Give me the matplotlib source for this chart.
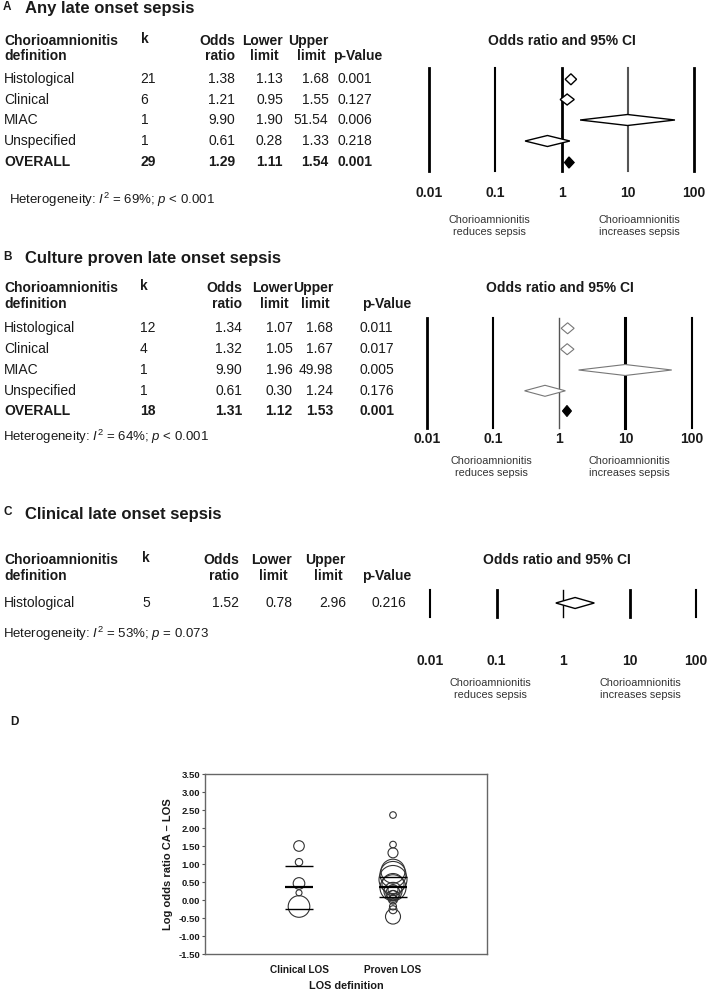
import numpy as np
import matplotlib
matplotlib.use('Agg')
import matplotlib.pyplot as plt

plt.rcParams['font.family'] = ['Liberation Sans', 'DejaVu Sans']
plt.rcParams['mathtext.fontset'] = 'custom'
plt.rcParams['mathtext.rm'] = 'Liberation Sans'
plt.rcParams['mathtext.it'] = 'Liberation Sans:italic'

# panel A: any late onset sepsis
defs_a = ['Histological', 'Clinical', 'MIAC', 'Unspecified', 'OVERALL']
k_a = [21, 6, 1, 1, 29]
or_a = [1.38, 1.21, 9.90, 0.61, 1.29]
lo_a = [1.13, 0.95, 1.90, 0.28, 1.11]
up_a = [1.68, 1.55, 51.54, 1.33, 1.54]
p_a = ['0.001', '0.127', '0.006', '0.218', '0.001']
het_a = (69, '< 0.001')

# panel B: culture proven late onset sepsis
defs_b = ['Histological', 'Clinical', 'MIAC', 'Unspecified', 'OVERALL']
k_b = [12, 4, 1, 1, 18]
or_b = [1.34, 1.32, 9.90, 0.61, 1.31]
lo_b = [1.07, 1.05, 1.96, 0.30, 1.12]
up_b = [1.68, 1.67, 49.98, 1.24, 1.53]
p_b = ['0.011', '0.017', '0.005', '0.176', '0.001']
het_b = (64, '< 0.001')

# panel C: clinical late onset sepsis
defs_c = ['Histological']
k_c = [5]
or_c = [1.52]
lo_c = [0.78]
up_c = [2.96]
p_c = ['0.216']
het_c = (53, '= 0.073')

or_ticks = [0.01, 0.1, 1, 10, 100]
or_tick_labels = ['0.01', '0.1', '1', '10', '100']

# panel D: log odds ratio per study
los_groups = ['Clinical LOS', 'Proven LOS']
clinical_logor = [1.50, 1.05, 0.46, 0.20, -0.18]
clinical_weight = [5.3, 3.7, 5.8, 3.0, 10.8]
clinical_lines = [0.94, 0.36, -0.25]
proven_logor = [2.36, 1.54, 1.31, 0.80, 0.71, 0.57, 0.43, 0.34, 0.29, 0.24,
                0.20, 0.15, 0.10, 0.06, 0.01, -0.18, -0.27, -0.46]
proven_weight = [3.3, 3.3, 5.0, 12.0, 13.0, 14.0, 11.0, 13.0, 5.0, 9.0,
                 7.0, 4.0, 6.0, 3.0, 4.5, 3.5, 4.0, 7.5]
proven_lines = [0.64, 0.36, 0.08]

W, H = 710, 991
TXT = '#1a1a1a'

fig = plt.figure(figsize=(W / 100, H / 100), dpi=100)
tx = fig.add_axes([0, 0, 1, 1])
tx.set_xlim(0, W)
tx.set_ylim(H, 0)
tx.axis('off')


def forest_ax(x001, x100):
    dec = (x100 - x001) / 4
    ax = fig.add_axes([0, 0, 1, 1])
    ax.patch.set_alpha(0)
    ax.set_xscale('log')
    ax.set_xlim(10 ** (-2 - x001 / dec), 10 ** (2 + (W - x100) / dec))
    ax.set_ylim(H, 0)
    ax.axis('off')
    return ax


def panel(letter, title, y_title, y_head, rows_y, defs, k, ors, los, ups, ps,
          cols, het, het_xy, fx, vline_y, vline_style, dcol, dlw, tick_y,
          title_x, side_y):
    kx, or_r, lo_r, up_r, p_x, ph_x = cols
    tx.text(3, y_title - 2, letter, fontsize=8.5, weight='bold', color=TXT,
            va='center')
    tx.text(25, y_title, title, fontsize=12, weight='bold', color=TXT,
            va='center')
    y1, y2 = y_head
    hd = dict(fontsize=10, weight='bold', color=TXT, va='center')
    tx.text(4, y1, 'Chorioamnionitis', **hd)
    tx.text(4, y2, 'definition', **hd)
    tx.text(kx, y1 - 2, 'k', **hd)
    tx.text(or_r, y1, 'Odds', ha='right', **hd)
    tx.text(or_r, y2, 'ratio', ha='right', **hd)
    tx.text(lo_r, y1, 'Lower', ha='right', **hd)
    tx.text(lo_r - 4, y2, 'limit', ha='right', **hd)
    tx.text(up_r, y1, 'Upper', ha='right', **hd)
    tx.text(up_r - 3, y2, 'limit', ha='right', **hd)
    tx.text(ph_x, y2, 'p-Value', **hd)
    for i, y in enumerate(rows_y):
        overall = defs[i] == 'OVERALL'
        st = dict(fontsize=10, color=TXT, va='center',
                  weight='bold' if overall else 'normal')
        tx.text(4, y, defs[i], **st)
        tx.text(kx, y, str(k[i]), **st)
        tx.text(or_r, y, '%.2f' % ors[i], ha='right', **st)
        tx.text(lo_r, y, '%.2f' % los[i], ha='right', **st)
        tx.text(up_r, y, '%.2f' % ups[i], ha='right', **st)
        tx.text(p_x, y, ps[i], **st)
        # diamond
        h = 5.5
        fc = 'black' if overall else 'white'
        ec = 'black' if overall else dcol
        fx.fill([los[i], ors[i], ups[i], ors[i]], [y, y - h, y, y + h],
                fc=fc, ec=ec, lw=dlw, zorder=3)
    tx.text(het_xy[0], het_xy[1],
            r'Heterogeneity: $\mathit{I}^2$ = %d%%; $\mathit{p}$ %s' % het,
            fontsize=9.5, color=TXT, va='center')
    for v, (c, lw) in zip(or_ticks, vline_style):
        fx.plot([v, v], vline_y, color=c, lw=lw, zorder=2)
    for v, lab in zip(or_ticks, or_tick_labels):
        fx.text(v, tick_y, lab, ha='center', va='center', fontsize=10,
                weight='bold', color=TXT)
    tx.text(title_x, y_head[0], 'Odds ratio and 95% CI', ha='center',
            va='center', fontsize=10, weight='bold', color=TXT)
    sd = dict(ha='center', va='center', fontsize=7.8, color='#333333',
              linespacing=1.25)
    tx.text(side_y[0], side_y[2], 'Chorioamnionitis\nreduces sepsis', **sd)
    tx.text(side_y[1], side_y[2], 'Chorioamnionitis\nincreases sepsis', **sd)


fa = forest_ax(429.3, 694)
panel('A', 'Any late onset sepsis', 9, (41, 56),
      [79.3, 99.5, 120, 141, 162.5], defs_a, k_a, or_a, lo_a, up_a, p_a,
      (140.5, 235, 283, 328.5, 337, 333), het_a, (9, 200), fa, (68, 171),
      [('black', 2), ('black', 1.5), ('black', 2), ('#555555', 1.5),
       ('black', 2)], 'black', 1.0, 193, 561.7, (489.5, 639.5, 226))

fb = forest_ax(426.7, 691.7)
panel('B', 'Culture proven late onset sepsis', 259, (288.3, 304),
      [328.3, 349.2, 370, 390.8, 411], defs_b, k_b, or_b, lo_b, up_b, p_b,
      (140, 242, 292.5, 333, 360, 362), het_b, (3, 437.3), fb, (318, 428),
      [('black', 2), ('black', 1.5), ('#555555', 1), ('black', 2.2),
       ('black', 1.5)], '#777777', 0.8, 439.3, 560, (491, 629.7, 466.5))

fc_ = forest_ax(430, 696)
panel('C', 'Clinical late onset sepsis', 514, (560, 576), [603],
      defs_c, k_c, or_c, lo_c, up_c, p_c,
      (142, 239, 292, 346, 371, 362), het_c, (3, 634), fc_, (590, 617),
      [('black', 1.5), ('black', 2), ('black', 1), ('black', 2),
       ('black', 1.5)], 'black', 1.0, 661, 557, (490, 640, 688.5))

# panel D
tx.text(10, 722, 'D', fontsize=8.5, weight='bold', color=TXT, va='center')
axd = fig.add_axes([205 / W, 1 - 954 / H, 282 / W, 180 / H])
pos = np.arange(1, len(los_groups) + 1)
for x, vals, wts, lines in [(pos[0], clinical_logor, clinical_weight, clinical_lines),
                            (pos[1], proven_logor, proven_weight, proven_lines)]:
    sizes = [(2 * r * 0.72) ** 2 for r in wts]
    axd.scatter([x] * len(vals), vals, s=sizes, facecolors='none',
                edgecolors='#333333', linewidths=0.8, zorder=3)
    for j, yv in enumerate(lines):
        axd.hlines(yv, x - 0.15, x + 0.15, color='black',
                   lw=1.6 if j == 1 else 1.0, zorder=4)
axd.set_xlim(0, 3)
axd.set_ylim(-1.5, 3.5)
yt = np.arange(-1.5, 3.51, 0.5)
axd.set_yticks(yt)
axd.set_yticklabels(['%.2f' % v for v in yt], fontsize=6.8, weight='bold',
                    color=TXT)
axd.set_xticks(pos)
axd.set_xticklabels(los_groups, fontsize=7.2, weight='bold', color=TXT)
axd.tick_params(axis='x', length=0, pad=8)
axd.tick_params(axis='y', length=2, pad=1.5, color='#555555')
for s in axd.spines.values():
    s.set_color('#666666')
    s.set_linewidth(1)
axd.set_ylabel('Log odds ratio CA \u2013 LOS', fontsize=8, weight='bold',
               color=TXT, labelpad=4)
axd.set_xlabel('LOS definition', fontsize=7.8, weight='bold', color=TXT,
               labelpad=4)

fig.savefig('out.png', dpi=100)
